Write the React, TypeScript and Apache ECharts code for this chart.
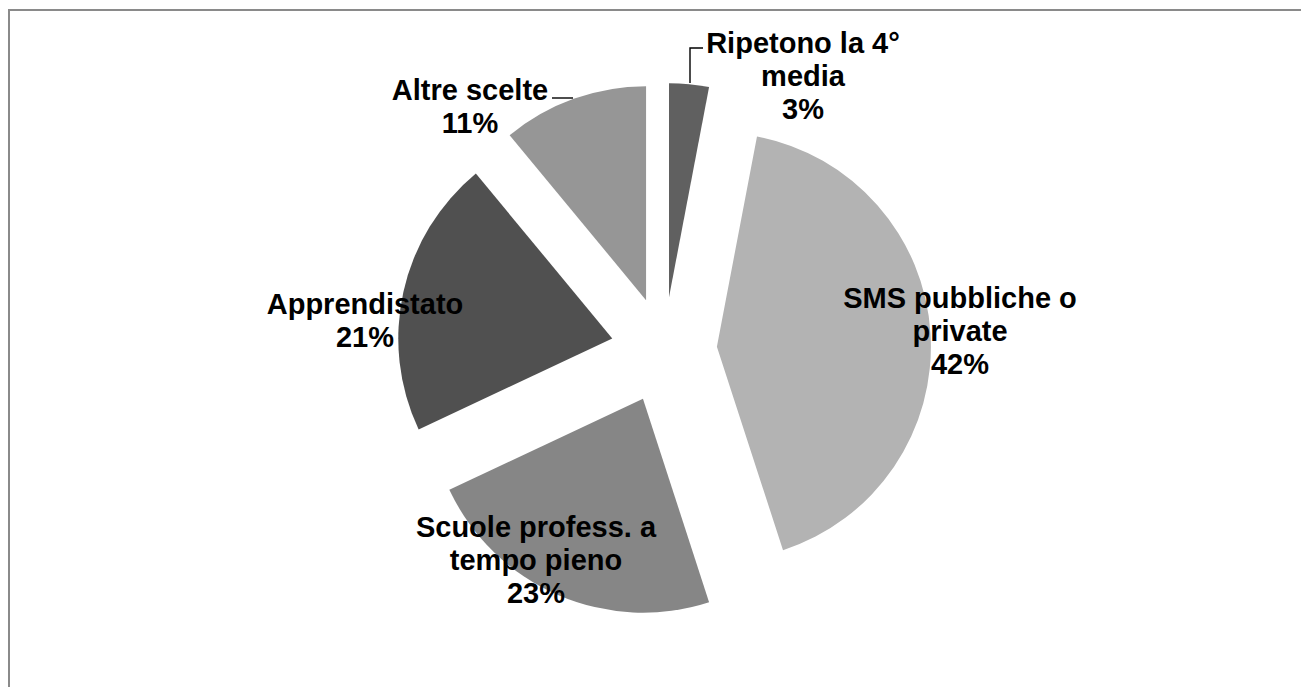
import React, { useEffect, useRef } from "react";
import * as echarts from "echarts";

const categories = [
  "Ripetono la 4°\nmedia",
  "SMS pubbliche o\nprivate",
  "Scuole profess. a\ntempo pieno",
  "Apprendistato",
  "Altre scelte",
];
const values = [3, 42, 23, 21, 11];
const sliceColors = ["#606060", "#b3b3b3", "#868686", "#505050", "#969696"];

// label layout (container pixel positions)
const labelPos = [
  [795, 68],
  [952, 323],
  [528, 552],
  [357, 312],
  [462, 98],
];
const leaderLines: (number[][] | null)[] = [
  [
    [682, 75],
    [682, 40],
    [695, 40],
  ],
  null,
  null,
  null,
  [
    [565, 90],
    [544, 90],
  ],
];

const FONT = "'Liberation Sans', Arial, sans-serif";

export default function App() {
  const ref = useRef<HTMLDivElement>(null);
  useEffect(() => {
    if (!ref.current) return;
    const chart = echarts.init(ref.current, undefined, { renderer: "svg" });
    const W = 1301;
    const H = 679;
    const total = values.reduce((a, b) => a + b, 0);
    const graphics: any[] = [
      {
        type: "polyline",
        shape: {
          points: [
            [1, H + 5],
            [1, 2],
            [W + 5, 2],
          ],
        },
        style: { stroke: "#8a8a8a", lineWidth: 2, fill: "none" },
        silent: true,
      },
    ];
    categories.forEach((c, i) => {
      const pct = Math.round((values[i] / total) * 100);
      graphics.push({
        type: "text",
        x: labelPos[i][0],
        y: labelPos[i][1],
        silent: true,
        z: 10,
        style: {
          text: `${c}\n${pct}%`,
          fontFamily: FONT,
          fontWeight: "bold",
          fontSize: 29,
          lineHeight: 33,
          fill: "#000000",
          align: "center",
          verticalAlign: "middle",
        },
      });
      const pts = leaderLines[i];
      if (pts) {
        graphics.push({
          type: "polyline",
          silent: true,
          z: 10,
          shape: { points: pts },
          style: { stroke: "#000000", lineWidth: 1.4, fill: "none" },
        });
      }
    });
    chart.setOption({
      animation: false,
      backgroundColor: "#ffffff",
      graphic: graphics,
      series: [
        {
          type: "pie",
          center: [656, 342],
          radius: 214,
          startAngle: 90,
          clockwise: true,
          selectedMode: "multiple",
          selectedOffset: 53,
          emphasis: { disabled: true },
          itemStyle: { borderWidth: 0 },
          label: { show: false },
          labelLine: { show: false },
          data: categories.map((c, i) => ({
            name: c,
            value: values[i],
            selected: true,
            itemStyle: { color: sliceColors[i] },
          })),
        },
      ],
    });
    return () => chart.dispose();
  }, []);
  return <div ref={ref} style={{ width: 1301, height: 679 }} />;
}
